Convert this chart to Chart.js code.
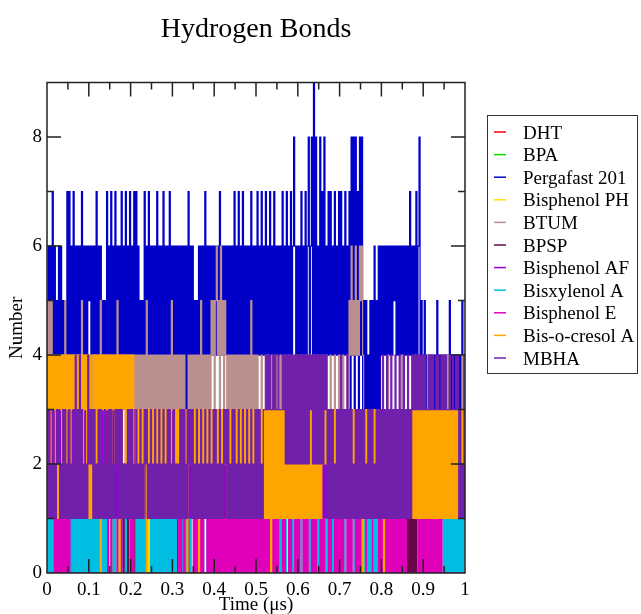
<!DOCTYPE html>
<html>
<head>
<meta charset="utf-8">
<title>Hydrogen Bonds</title>
<script src="https://cdn.jsdelivr.net/npm/chart.js@4.4.1/dist/chart.umd.min.js"></script>
<style>
  html, body { margin: 0; padding: 0; background: #fff; }
  canvas { display: block; }
</style>
</head>
<body>
<canvas id="canvas" width="641" height="614"></canvas>
<script>
// hydrogen bond counts, one digit per frame,
// frames 0.0025 us apart, written in groups of 10 frames (4 groups = 0.1 us)
const timeStep = 0.0025;
const Z = '0000000000';

function digits(parts) {
    return parts.join('').split('').map(Number);
}

const dht = digits([
    Z, Z, Z, Z,
    Z, Z, Z, '0000001000',
    Z, Z, Z, Z,
    Z, Z, Z, Z,
    Z, Z, Z, Z,
    Z, '0000010000', Z, Z,
    Z, Z, Z, Z,
    Z, Z, Z, Z,
    Z, Z, Z, Z,
    Z, Z, Z, Z, '0']);
const bpa = digits([
    '4000000000', Z, Z, Z,
    Z, Z, Z, Z,
    Z, Z, Z, Z,
    Z, Z, Z, Z,
    Z, '0000300000', Z, Z,
    Z, Z, Z, Z,
    Z, Z, Z, Z,
    Z, '0000001000', Z, Z,
    Z, Z, Z, Z,
    Z, Z, Z, Z, '0']);
const pergafast201 = digits([
    '4646474645', '4646454547', '4746474646', '4647464646',
    '5646464746', '4645454746', '4746474646', '4746474647',
    '4647474645', '4547464746', '4646474646', '4746464746',
    '4646464646', '4636374646', '4545464646', '4746464646',
    '4646474646', '4646464647', '4647464746', '4646474646',
    '4746474647', '4647464746', '4646474647', '4647468646',
    '4647464746', '8468494846', '4847484647', '4746474647',
    '4746474647', '3848384738', '4835353435', '3536353636',
    '4646464646', '4656464646', '4646464746', '4647468353',
    '4534343434', '3435343434', '3434353434', '3434343534', '4']);
const bisphenolPH = digits([
    Z, Z, Z, Z,
    Z, Z, '0010100000', Z,
    Z, '0000010100', Z, Z,
    Z, Z, Z, Z,
    Z, Z, Z, Z,
    Z, Z, Z, Z,
    Z, Z, Z, Z,
    Z, Z, Z, '0000000010',
    '0010000000', Z, Z, Z,
    Z, Z, Z, Z, '0']);
const btum = digits([
    '5454543434', '3434343534', '3434343434', '3435343434',
    '3434343434', '3534343434', '3434343534', '3434343434',
    '3434343434', '3434353434', '3434343434', '3434343435',
    '3434343434', '3430343434', '3434343534', '3434343545',
    '3564536453', '5434343434', '3434343434', '3434353434',
    '3433343334', '3433343234', '3334333433', '3433343334',
    '3334333433', '3433343334', '3334333433', '3433343334',
    '3334333435', '4645464546', '5643333333', '3333333333',
    '3333334333', '3333333334', '3333333333', '3343333333',
    '3333433333', '3333333333', '3334333333', '3333333433', '3']);
const bpsp = digits([
    '0010000000', Z, Z, Z,
    Z, Z, '0000000001', '0001000100',
    '1000100000', Z, Z, '0010000000',
    '0000100000', '0100010000', Z, Z,
    Z, Z, Z, Z,
    Z, Z, Z, Z,
    Z, Z, Z, Z,
    Z, Z, Z, Z,
    Z, Z, '0000010101', '0101000000',
    '0000001000', '0010000000', Z, Z, '0']);
const bisphenolAF = digits([
    '1313131313', '1313131313', '1313131313', '1313131313',
    '1313121313', '1313131313', '1313131313', '1312131313',
    '1313131313', '1313031313', '1313131313', '1313131313',
    '1303131313', '1313131313', '0313131313', '1313031313',
    '1313131313', '1313131313', '1312131313', '1313131313',
    '1313131313', '1313131313', '1313131313', '1313131313',
    '0313131303', '1313130313', '1313031313', '1303131313',
    '0313131313', '0313131313', '1313131313', '1313131313',
    '1313131313', '1313131313', '1313131313', '1313131313',
    '1313131313', '1313131313', '1313131313', '1313131313', '1']);
const bisxylenolA = digits([
    '0101010101', '0101010101', '0101010101', '0101010101',
    '0101010101', '0101010100', '0001010000', '0100010001',
    '0100010101', '0101000001', '0101010101', '0101010101',
    '0101000101', '0001000100', '0100010001', '0001000101',
    '0101000100', '0001000000', '0000010000', '0000000001',
    Z, Z, '0001000010', '0000010000',
    '0001000000', '0100000001', '0000000100', '0001000000',
    '0000010000', '0001000000', '0101000101', '0001010000',
    '1000000000', Z, Z, Z,
    Z, '0000000001', '0101010101', '0101010101', '1']);
const bisphenolE = digits([
    '0000000101', '0101010101', '0100000000', Z,
    Z, '0000000010', '0100000100', '0100000000',
    '1010000000', Z, Z, Z,
    '0000001010', '0100000000', '0101010101', '0001010101',
    '0101010101', '0101010101', '0101010101', '0101010101',
    '0101010101', '0101010101', '0100010100', '0101000101',
    '0100010101', '0001010100', '0101010001', '0100010101',
    '0101000101', '0100010101', '0000010000', '0100000101',
    '0101010101', '0101010101', '0101000000', '0000010101',
    '0101010101', '0101010100', Z, Z, '0']);
const bisOCresolA = digits([
    '2434243424', '1434243424', '3424342434', '2434243424',
    '1413434243', '4043424342', '4243424340', '4243424342',
    '4342232323', '2313202323', '2323132323', '2313232323',
    '3231323232', '3132023231', '3232303232', '3132323231',
    '3231321323', '2313232313', '2323132323', '2313232313',
    '2323231313', '1313031313', '1313131313', '1313131313',
    '1313131313', '1313131313', '1313232323', '2323232323',
    '2323232323', '2323232323', '2303232323', '2323232323',
    '2303232323', '2323232323', '2323232313', '1313131313',
    '1313131313', '1313131313', '1313131313', '1313132323', '2']);
const mbha = digits([
    '1312131213', '2312131312', '1312131413', '1413121214',
    '2323131213', '1312131213', '1312132313', '1312121313',
    '1312131213', '1213231213', '1213121312', '1312131312',
    '1312121313', '1312132313', '1213121312', '1312131213',
    '1312131213', '2313121313', '1213121312', '1312131213',
    '1313121334', '3434334343', '3433343424', '2424242424',
    '2424242424', '2434242424', '2424243413', '1313121313',
    '1413131413', '1312131313', '1313121313', '1312131313',
    '1413141314', '1314131413', '1413141314', '3434343434',
    '3433343434', '3343433434', '3433343343', '3434131213', '3']);

const seriesNames = ['DHT', 'BPA', 'Pergafast 201', 'Bisphenol PH', 'BTUM', 'BPSP',
    'Bisphenol AF', 'Bisxylenol A', 'Bisphenol E', 'Bis-o-cresol A', 'MBHA'];
const seriesValues = [dht, bpa, pergafast201, bisphenolPH, btum, bpsp,
    bisphenolAF, bisxylenolA, bisphenolE, bisOCresolA, mbha];
const seriesColors = ['rgb(255,0,0)', 'rgb(0,220,0)', 'rgb(0,0,200)', 'rgb(255,225,0)',
    'rgb(188,143,143)', 'rgb(103,7,72)', 'rgb(148,0,211)', 'rgb(0,190,225)',
    'rgb(225,0,185)', 'rgb(255,165,0)', 'rgb(112,32,170)'];

const xTickValues = [0, 0.1, 0.2, 0.3, 0.4, 0.5, 0.6, 0.7, 0.8, 0.9, 1];
const yTickValues = [0, 2, 4, 6, 8];

const serif = '"Liberation Serif", "Times New Roman", serif';
Chart.defaults.font.family = serif;
Chart.defaults.color = '#000';

const times = pergafast201.map((v, i) => i * timeStep);

// grace style: closed frame, inward major/minor ticks on all four sides
const frameTicks = {
    id: 'frameTicks',
    afterDatasetsDraw(chart) {
        const ctx = chart.ctx;
        const a = chart.chartArea;
        const x = chart.scales.x;
        const y = chart.scales.y;
        ctx.save();
        ctx.strokeStyle = '#222';
        ctx.lineWidth = 1.5;
        ctx.beginPath();
        ctx.rect(a.left, a.top, a.right - a.left, a.bottom - a.top);
        for (let k = 0; k <= 20; k++) {
            const px = x.getPixelForValue(k * 0.05);
            const len = k % 2 === 0 ? 14 : 7;
            ctx.moveTo(px, a.bottom); ctx.lineTo(px, a.bottom - len);
            ctx.moveTo(px, a.top); ctx.lineTo(px, a.top + len);
        }
        for (let k = 0; k <= 9; k++) {
            const py = y.getPixelForValue(k);
            const len = k % 2 === 0 ? 14 : 7;
            ctx.moveTo(a.left, py); ctx.lineTo(a.left + len, py);
            ctx.moveTo(a.right, py); ctx.lineTo(a.right - len, py);
        }
        ctx.stroke();
        ctx.restore();
    }
};

// boxed legend to the right of the plot, like the xmgrace one
const boxLegend = {
    id: 'boxLegend',
    afterDraw(chart) {
        const ctx = chart.ctx;
        const left = chart.chartArea.right + 22;
        const top = 115;
        ctx.save();
        ctx.strokeStyle = '#333';
        ctx.lineWidth = 1;
        ctx.strokeRect(left + 0.5, top + 0.5, 150, 258);
        ctx.font = '19px ' + serif;
        ctx.textBaseline = 'alphabetic';
        chart.data.datasets.forEach((ds, i) => {
            const cy = 132 + i * 22.6;
            ctx.strokeStyle = ds.borderColor;
            ctx.lineWidth = 1.5;
            ctx.beginPath();
            ctx.moveTo(left + 7, cy);
            ctx.lineTo(left + 19, cy);
            ctx.stroke();
            ctx.fillStyle = '#000';
            ctx.fillText(ds.label, left + 36, cy + 6.5);
        });
        ctx.restore();
    }
};

const datasets = seriesNames.map((name, i) => ({
    label: name,
    data: seriesValues[i].map((v, k) => ({ x: times[k], y: v })),
    borderColor: seriesColors[i],
    backgroundColor: seriesColors[i],
    borderWidth: 1.2,
    borderJoinStyle: 'miter',
    borderCapStyle: 'butt',
    stepped: true,
    pointRadius: 0,
    fill: false,
    order: seriesNames.length - i,
}));

new Chart(document.getElementById('canvas'), {
    type: 'line',
    data: { datasets: datasets },
    options: {
        responsive: false,
        animation: false,
        devicePixelRatio: 1,
        layout: { padding: { left: 0, right: 176, top: 0, bottom: 0 } },
        plugins: {
            legend: { display: false },
            tooltip: { enabled: false },
            title: {
                display: true,
                text: 'Hydrogen Bonds',
                fullSize: false,
                color: '#000',
                font: { family: serif, size: 28, weight: 'normal', lineHeight: 1.2 },
                padding: { top: 13, bottom: 36 },
            },
        },
        scales: {
            x: {
                type: 'linear',
                min: 0,
                max: 1,
                afterBuildTicks: (scale) => { scale.ticks = xTickValues.map(v => ({ value: v })); },
                afterFit: (scale) => { scale.height = 41; },
                grid: { display: false, drawTicks: false },
                border: { display: false },
                ticks: {
                    autoSkip: false,
                    maxRotation: 0,
                    padding: 6,
                    font: { size: 19 },
                    callback: (v) => String(Math.round(v * 10) / 10),
                },
                title: {
                    display: true,
                    text: 'Time (μs)',
                    font: { size: 19, lineHeight: 0.9 },
                    padding: { top: 0, bottom: 0 },
                },
            },
            y: {
                type: 'linear',
                min: 0,
                max: 9,
                afterBuildTicks: (scale) => { scale.ticks = yTickValues.map(v => ({ value: v })); },
                afterFit: (scale) => { scale.width = 47; },
                grid: { display: false, drawTicks: false },
                border: { display: false },
                ticks: {
                    padding: 5,
                    font: { size: 19 },
                    callback: (v) => String(v),
                },
                title: {
                    display: true,
                    text: 'Number',
                    font: { size: 19 },
                    padding: { top: 6, bottom: 0 },
                },
            },
        },
    },
    plugins: [frameTicks, boxLegend],
});
</script>
</body>
</html>
